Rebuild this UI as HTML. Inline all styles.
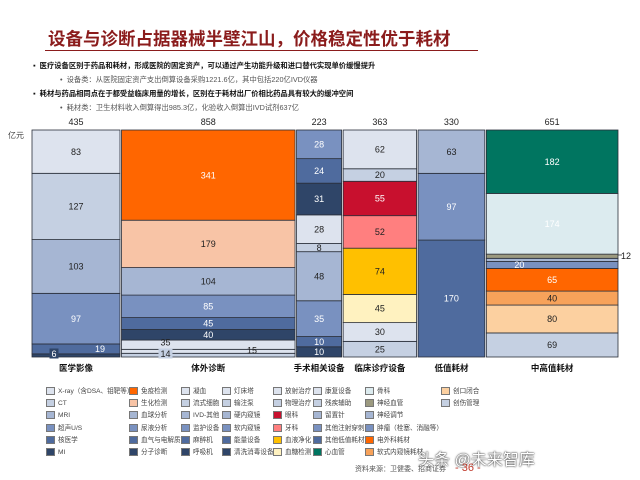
<!DOCTYPE html>
<html><head><meta charset="utf-8">
<style>
body{margin:0;width:640px;height:480px;background:#fff;overflow:hidden;font-family:"Liberation Sans","Noto Sans CJK SC",sans-serif;position:relative}
.abs{position:absolute;white-space:nowrap}
.b{font-size:7.3px;color:#111;font-weight:bold}
.s{font-size:7.3px;color:#555}
.lg{position:absolute;font-size:6.6px;color:#444;white-space:nowrap;line-height:9px}
.lg i{display:inline-block;width:9px;height:8px;border:1px solid #777;vertical-align:-2px;margin-right:3px;box-sizing:border-box}
</style></head><body>
<div class="abs" style="left:48px;top:26px;font-size:17.5px;font-weight:bold;color:#8b1c1c;font-family:'Liberation Sans','Noto Sans CJK SC',sans-serif">设备与诊断占据器械半壁江山，价格稳定性优于耗材</div>
<div class="abs" style="left:45px;top:50px;width:433px;height:1px;background:#8b1c1c"></div>
<div class="abs b" style="left:33px;top:61px">▪&nbsp; 医疗设备区别于药品和耗材，形成医院的固定资产，可以通过产生功能升级和进口替代实现单价缓慢提升</div>
<div class="abs s" style="left:60px;top:75px">•&nbsp; 设备类：从医院固定资产支出倒算设备采购1221.6亿，其中包括220亿IVD仪器</div>
<div class="abs b" style="left:33px;top:89px">▪&nbsp; 耗材与药品相同点在于都受益临床用量的增长，区别在于耗材出厂价相比药品具有较大的缓冲空间</div>
<div class="abs s" style="left:60px;top:103px">•&nbsp; 耗材类：卫生材料收入倒算得出985.3亿，化验收入倒算出IVD试剂637亿</div>
<div class="abs" style="left:8px;top:130px;font-size:8px;color:#444">亿元</div>
<svg id="chart" width="640" height="480" style="position:absolute;left:0;top:0"></svg>
<div id="legend"></div>
<div class="abs" style="left:418px;top:446px;font-size:16px;color:#fff;text-shadow:0 0 2px #444,0 0 1px #222">头条 @未来智库</div>
<div class="abs" style="left:355px;top:464px;font-size:7px;color:#555">资料来源：卫健委、招商证券</div>
<div class="abs" style="left:455px;top:462px;font-size:11px;color:#c0392b">- 36 -</div>
<script>
const categories=["医学影像","体外诊断","手术相关设备","临床诊疗设备","低值耗材","中高值耗材"];
const totals=[435,858,223,363,330,651];
// segment values, bottom to top
const seg0=[6,19,97,103,127,83];
const seg1=[14,15,35,40,45,85,104,179,341];
const seg2=[10,10,35,48,8,28,31,24,28];
const seg3=[25,30,45,74,52,55,20,62];
const seg4=[170,97,63];
const seg5=[69,80,40,65,20,9,12,174,182];
const segLabels5=["69","80","40","65","20","","12","174","182"];
const segs=[seg0,seg1,seg2,seg3,seg4,seg5];
const L="#dde3ee",C="#c5d0e2",M="#a6b6d3",U="#7991c0",N="#4f6b9e",D="#2f4568";
const cols=[[D,N,U,M,C,L],[C,L,L,D,N,U,M,"#f8c4a6","#ff6600"],[D,N,U,M,C,L,D,N,U],
["#c5d0e2","#dde3ee","#fff2c0","#ffc000","#ff7f7f","#c8102e","#c5d0e2","#dde3ee"],[N,U,M],
["#c5d0e2","#fcd0a0","#f7a25a","#ff6600",U,M,"#9c9a80","#dcebef","#007560"]];
const darkTxt=new Set([D,N,U,"#ff6600","#c8102e","#007560","#dcebef"]);
const svg=document.getElementById('chart');const NS="http://www.w3.org/2000/svg";
const X0=32,X1=618,Y0=130,Y1=357,GAP=1.5;
const sumT=totals.reduce((a,b)=>a+b,0);
const xs=v=>v/sumT*(X1-X0-GAP*5);
function mk(t,a,txt){const e=document.createElementNS(NS,t);for(const k in a)e.setAttribute(k,a[k]);if(txt!==undefined)e.textContent=txt;svg.appendChild(e);return e;}
const pending=[];
let x=X0;
totals.forEach((tot,ci)=>{
 const w=xs(tot);const vals=segs[ci];const s=vals.reduce((a,b)=>a+b,0);
 let y=Y1;
 vals.forEach((v,si)=>{
  const h=v/s*(Y1-Y0);
  const r=mk('rect',{x:x,y:y-h,width:w,height:h,fill:cols[ci][si],stroke:'#2a2f3a','stroke-width':0.8});
  
  
  let lab=ci===5?segLabels5[si]:String(v);
  let lx=x+w/2,ly=y-h/2+3.2,box=null;
  if(ci===0&&si===0){lx=x+22;ly=Y1;box=D}
  if(ci===0&&si===1){lx=x+w-20;ly=y-h/2+3}
  if(ci===1&&si===0){lx=x+44;ly=Y1;box=C}
  if(ci===1&&si===1){lx=x+w-43;ly=y-h/2+2}
  if(ci===1&&si===2){lx=x+44;ly=y-h/2+1}
  if(ci===5&&si===4){lx=x+33}
  if(ci===5&&si===6){lx=X1+8;ly=y-h/2+3}
  let fill=darkTxt.has(cols[ci][si])?'#fff':'#222';
  if(ci===5&&si===6) fill='#222';
  if(lab) pending.push({lab,lx,ly,box,fill,ci,si});
  y-=h;
 });
 const tt=mk('text',{x:x+w/2,y:125,'font-size':9,'text-anchor':'middle',fill:'#222','font-family':'Liberation Sans, sans-serif'},String(tot));
 
 
 const cl=mk('text',{x:x+w/2,y:371,'font-size':8.5,'font-weight':'bold','text-anchor':'middle',fill:'#111','font-family':'Liberation Sans, Noto Sans CJK SC, sans-serif'},categories[ci]);
 
 
 x+=w+GAP;
});
pending.forEach(p=>{
 if(p.box){const bw=p.lab.length*5+4;mk('rect',{x:p.lx-bw/2,y:p.ly-8.5,width:bw,height:10,fill:p.box});}
 const t=mk('text',{x:p.lx,y:p.ly,'font-size':9,'text-anchor':'middle',fill:p.fill,'font-family':'Liberation Sans, sans-serif'},p.lab);
 
 
});
mk('line',{x1:X1,y1:255,x2:X1+4,y2:255,stroke:'#333','stroke-width':0.8});
const legendNames=["X-ray（含DSA、钼靶等）","CT","MRI","超声U/S","核医学","MI",
"免疫检测","生化检测","血球分析","尿液分析","血气与电解质","分子诊断",
"凝血","流式细胞","IVD-其他","监护设备","麻醉机","呼吸机",
"灯床塔","输注泵","硬内窥镜","软内窥镜","能量设备","清洗消毒设备",
"放射治疗","物理治疗","眼科","牙科","血液净化","血糖检测",
"康复设备","残疾辅助","留置针","其他注射穿刺","其他低值耗材","心血管",
"骨科","神经血管","神经调节","肿瘤（栓塞、消融等）","电外科耗材","软式内窥镜耗材",
"创口闭合","创伤管理"];
const legendColors=[L,C,M,U,N,D,"#ff6600","#f8c4a6",M,U,N,D,L,C,M,U,N,D,L,C,M,U,N,D,
L,C,"#c8102e","#ff7f7f","#ffc000","#fff2c0",L,C,M,U,N,"#007560","#dcebef","#9c9a80",M,U,"#ff6600","#f7a25a","#fcd0a0",C];
const lgX=[46,129,181,222,273,313,365,441];
const lg=document.getElementById('legend');
legendNames.forEach((n,i)=>{
 const c=Math.floor(i/6),r=i%6;
 const d=document.createElement('div');d.className='lg';
 d.style.left=lgX[c]+'px';d.style.top=(387+r*12.2)+'px';
 d.innerHTML='<i style="background:'+legendColors[i]+'"></i>'+n;
 
 
 lg.appendChild(d);
});
</script>
</body></html>
